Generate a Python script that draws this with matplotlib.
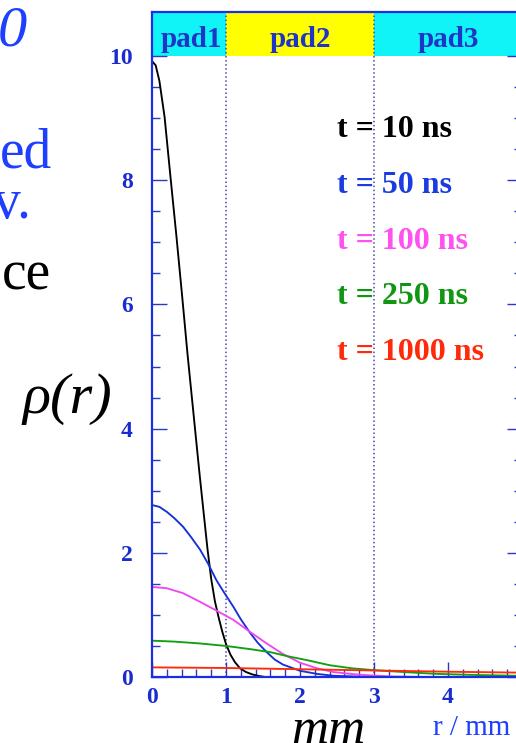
import numpy as np
import matplotlib.pyplot as plt
from matplotlib.ticker import MultipleLocator, FixedLocator

plt.rcParams["font.family"] = ["Liberation Serif", "DejaVu Serif"]
plt.rcParams["font.weight"] = "bold"

FIG_W, FIG_H = 516, 743

# ------------------------------------------------------------
# radial charge density rho(r) at several drift times
# ------------------------------------------------------------
r_10 = [0.00, 0.05, 0.10, 0.17, 0.25, 0.33, 0.41, 0.48, 0.56, 0.64, 0.70,
        0.75, 0.80, 0.85, 0.90, 0.95, 1.00, 1.06, 1.12, 1.19, 1.27, 1.36,
        1.45, 1.53]
rho_10 = [9.92, 9.85, 9.60, 9.02, 8.05, 7.10, 6.10, 5.20, 4.25, 3.30, 2.62,
          2.06, 1.58, 1.22, 0.96, 0.73, 0.53, 0.36, 0.24, 0.14, 0.08, 0.04,
          0.015, 0.0]

r_50 = [0.00, 0.10, 0.20, 0.30, 0.42, 0.53, 0.65, 0.76, 0.87, 0.98, 1.10,
        1.20, 1.32, 1.43, 1.55, 1.66, 1.77, 2.00, 2.23, 2.45, 2.70, 3.00]
rho_50 = [2.77, 2.74, 2.66, 2.56, 2.42, 2.25, 2.05, 1.82, 1.56, 1.35, 1.13,
          0.93, 0.72, 0.55, 0.40, 0.28, 0.20, 0.10, 0.05, 0.02, 0.01, 0.0]

r_100 = [0.00, 0.20, 0.42, 0.65, 0.87, 1.10, 1.32, 1.55, 1.77, 2.00, 2.23,
         2.45, 2.68, 2.90, 3.20, 3.60]
rho_100 = [1.45, 1.43, 1.35, 1.21, 1.07, 0.92, 0.73, 0.54, 0.37, 0.23, 0.14,
           0.08, 0.05, 0.03, 0.01, 0.0]

r_250 = [0.00, 0.30, 0.65, 1.00, 1.32, 1.60, 1.85, 2.10, 2.40, 2.70, 3.00,
         3.40, 3.85, 4.30, 4.90, 5.00]
rho_250 = [0.585, 0.57, 0.54, 0.50, 0.45, 0.40, 0.33, 0.27, 0.19, 0.14, 0.11,
           0.08, 0.05, 0.035, 0.02, 0.02]

r_1000 = [0.0, 1.0, 2.0, 3.0, 4.0, 5.0]
rho_1000 = [0.155, 0.145, 0.125, 0.105, 0.085, 0.07]

drift_times = ["10", "50", "100", "250", "1000"]
curve_colors = ["black", "#1530d8", "#f048f0", "#10a010", "#ff2a08"]
label_colors = ["black", "#1a3ce0", "#ff50f0", "#129612", "#ff2a0a"]

pad_names = ["pad1", "pad2", "pad3"]
pad_edges = [0, 1, 3, 5]
pad_colors = ["#10f4f8", "#ffff00", "#10f4f8"]

BLUE = "#1c2ee0"
TICK_BLUE = "#2c37c4"
TEXT_BLUE = "#1f3fff"


def fig_xy(x, y):
    # pixel position (from top-left) -> figure fraction
    return x / FIG_W, 1 - y / FIG_H


fig = plt.figure(figsize=(FIG_W / 100, FIG_H / 100), dpi=100)

# axes runs a little past the right edge, like the slide crop
ax = fig.add_axes([152 / FIG_W, 66 / FIG_H, 370 / FIG_W, 665 / FIG_H])
YTOP = 10.71
ax.set_xlim(0, 5)
ax.set_ylim(0, YTOP)

# pad header strip
for name, x0, x1, c in zip(pad_names, pad_edges[:-1], pad_edges[1:], pad_colors):
    ax.axvspan(x0, x1, ymin=10 / YTOP, ymax=1, color=c, lw=0, zorder=0.5)
    ax.text((x0 + x1) / 2 + (0.03 if name == "pad1" else 0), 10.15, name,
            ha="center", va="baseline", fontsize=21, color="#1f35c8",
            zorder=4)

for xb in pad_edges[1:-1]:
    ax.axvline(xb, color="#4848a8", lw=1.1, ls=":", zorder=1)

series = [(r_10, rho_10), (r_50, rho_50), (r_100, rho_100),
          (r_250, rho_250), (r_1000, rho_1000)]
for (r, rho), c in zip(series, curve_colors):
    ax.plot(r, rho, color=c, lw=1.35, zorder=3)

for i, (t, c) in enumerate(zip(drift_times, label_colors)):
    ax.text(2.5, 8.70 - 0.9 * i, f"t = {t} ns", color=c, fontsize=23,
            ha="left", va="baseline", zorder=4)

# ROOT-like frame
for side in ["left", "right", "top", "bottom"]:
    ax.spines[side].set_color(BLUE)
    ax.spines[side].set_linewidth(1.6)
    ax.spines[side].set_zorder(5)

ax.xaxis.set_major_locator(MultipleLocator(1))
ax.xaxis.set_minor_locator(MultipleLocator(0.2))
ax.yaxis.set_major_locator(FixedLocator([0, 2, 4, 6, 8, 10]))
ax.yaxis.set_minor_locator(FixedLocator(np.arange(0, 10.01, 0.5)))
ax.tick_params(which="both", direction="in", right=True, top=False,
               color=TICK_BLUE, width=1.0, labelcolor="#1a2bd0",
               labelsize=17)
ax.tick_params(which="major", length=11)
ax.tick_params(which="minor", length=5.5)
ax.tick_params(axis="x", pad=7)
ax.tick_params(axis="y", pad=14)

# slide text around the plot
fig.text(*fig_xy(27, 45), "0", ha="right", va="baseline", fontsize=42,
         style="italic", weight="normal", color=TEXT_BLUE)
fig.text(*fig_xy(52, 167), "ed", ha="right", va="baseline", fontsize=40,
         weight="normal", color=TEXT_BLUE)
fig.text(*fig_xy(31, 218), "v.", ha="right", va="baseline", fontsize=40,
         weight="normal", color=TEXT_BLUE)
fig.text(*fig_xy(51, 290), "ce", ha="right", va="baseline", fontsize=40,
         weight="normal", color="black")
fig.text(*fig_xy(112, 413), "\u03c1(r)", ha="right", va="baseline",
         fontsize=42, style="italic", weight="normal", color="black")
fig.text(*fig_xy(328, 743), "mm", ha="center", va="baseline", fontsize=37,
         style="italic", weight="normal", color="black")
fig.text(*fig_xy(433, 735), "r / mm", ha="left", va="baseline", fontsize=21,
         weight="normal", color=TEXT_BLUE)

fig.savefig("out.png", dpi=100)
